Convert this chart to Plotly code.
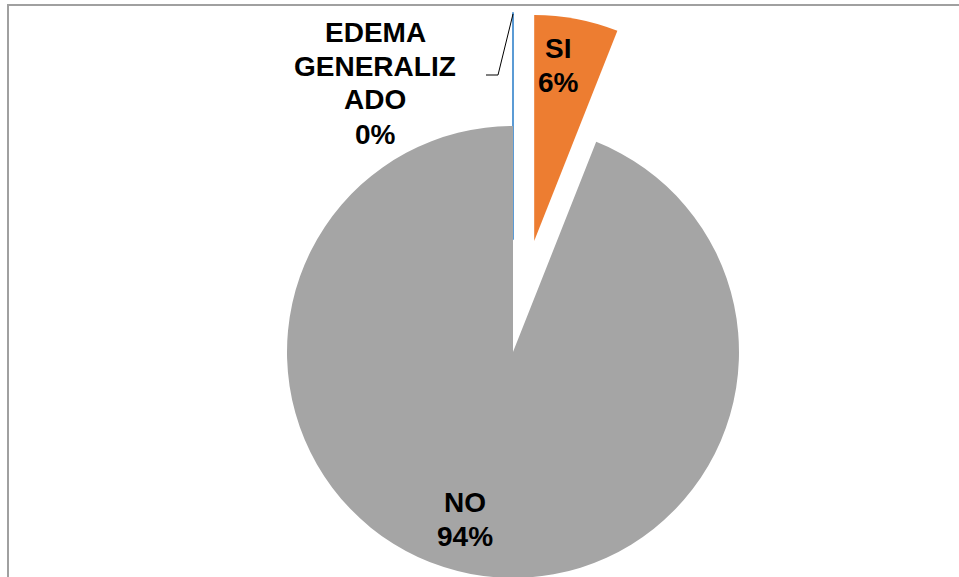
import plotly.graph_objects as go

# ---- data ----
labels = ["EDEMA GENERALIZADO", "SI", "NO"]
values = [0, 6, 94]
colors = ["#5B9BD5", "#ED7D31", "#A5A5A5"]
pulls = [0.5, 0.5, 0]
# label lines as wrapped in the original chart
label_lines = [["EDEMA", "GENERALIZ", "ADO"], ["SI"], ["NO"]]

# ---- geometry (pixels) ----
W, H = 959, 691
ML, MR, MT, MB = 174, 107, 13, 0
PW, PH = W - ML - MR, H - MT - MB


def px(x):
    return (x - ML) / PW


def py(y):
    return (H - MB - y) / PH


font = dict(family="Liberation Sans, Arial, sans-serif", size=28, color="black", weight="bold")

fig = go.Figure(
    go.Pie(
        labels=labels,
        values=values,
        sort=False,
        direction="clockwise",
        rotation=0,
        pull=pulls,
        marker=dict(colors=colors, line=dict(color=colors, width=[2, 0, 0])),
        textinfo="none",
        showlegend=False,
        hoverinfo="label+percent",
    )
)

# data labels (label + percentage), one annotation per text line
total = sum(values)
label_centers = [(375, 83), (558, 65), (465, 519)]  # pixel centres of each label block
line_gap = 34
annotations = []
for lines, v, (cx, cy) in zip(label_lines, values, label_centers):
    all_lines = lines + [f"{v / total:.0%}"]
    n = len(all_lines)
    for k, t in enumerate(all_lines):
        yk = cy + (k - (n - 1) / 2) * line_gap
        annotations.append(
            dict(
                text=t, x=px(cx), y=py(yk), xref="paper", yref="paper",
                xanchor="center", yanchor="middle", showarrow=False, font=font,
            )
        )

fig.update_layout(
    width=W,
    height=H,
    margin=dict(l=ML, r=MR, t=MT, b=MB),
    paper_bgcolor="white",
    plot_bgcolor="white",
    annotations=annotations,
    shapes=[
        dict(
            type="rect", xref="paper", yref="paper",
            x0=px(8), x1=px(1000), y0=py(5), y1=py(800),
            line=dict(color="#A0A0A0", width=2),
            fillcolor="rgba(0,0,0,0)",
        ),
        dict(
            type="path", xref="paper", yref="paper",
            path=f"M {px(486)},{py(75)} L {px(498)},{py(75)} L {px(513)},{py(14)}",
            line=dict(color="black", width=1),
        ),
    ],
)

fig.write_html(
    "out.html",
    config={"displayModeBar": False},
    post_script="document.body.style.margin='0';document.body.style.overflow='hidden';",
)
